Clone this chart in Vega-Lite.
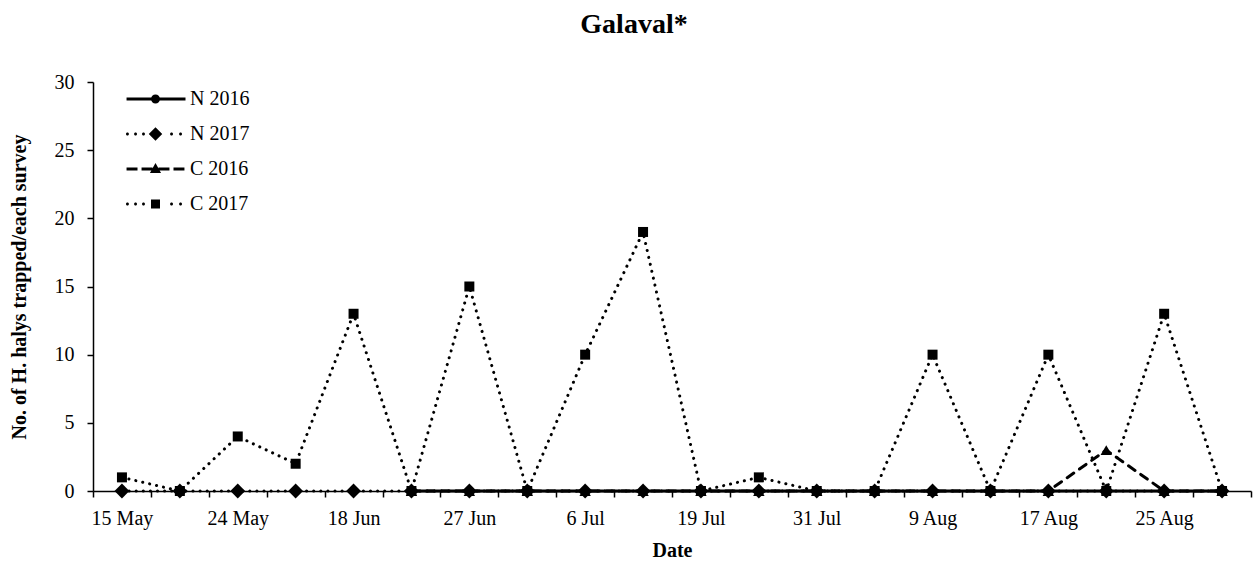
{
  "$schema": "https://vega.github.io/schema/vega-lite/v6.json",
  "autosize": {"type": "none"},
  "padding": {"left": 93, "top": 82, "right": 3, "bottom": 71},
  "width": 1158,
  "height": 409,
  "background": "white",
  "config": {
    "view": {"stroke": null},
    "font": "Liberation Serif",
    "axis": {"grid": false, "domainColor": "black", "domainWidth": 1.5, "tickColor": "black", "tickWidth": 1.5, "labelColor": "black", "titleColor": "black", "labelFont": "Liberation Serif", "titleFont": "Liberation Serif", "labelFontSize": 20, "titleFontSize": 20, "titleFontWeight": "bold"}
  },
  "title": {"text": "Galaval*", "font": "Liberation Serif", "fontSize": 28, "fontWeight": "bold", "color": "black", "anchor": "middle", "baseline": "alphabetic", "offset": 11, "dx": -38},
  "data": {"values": [
    {"series": "N 2016", "i": 5, "v": 0}, {"series": "N 2016", "i": 6, "v": 0}, {"series": "N 2016", "i": 7, "v": 0}, {"series": "N 2016", "i": 8, "v": 0}, {"series": "N 2016", "i": 9, "v": 0}, {"series": "N 2016", "i": 10, "v": 0}, {"series": "N 2016", "i": 11, "v": 0}, {"series": "N 2016", "i": 12, "v": 0}, {"series": "N 2016", "i": 13, "v": 0}, {"series": "N 2016", "i": 14, "v": 0}, {"series": "N 2016", "i": 15, "v": 0}, {"series": "N 2016", "i": 16, "v": 0}, {"series": "N 2016", "i": 17, "v": 0}, {"series": "N 2016", "i": 18, "v": 0}, {"series": "N 2016", "i": 19, "v": 0},
    {"series": "C 2016", "i": 5, "v": 0}, {"series": "C 2016", "i": 6, "v": 0}, {"series": "C 2016", "i": 7, "v": 0}, {"series": "C 2016", "i": 8, "v": 0}, {"series": "C 2016", "i": 9, "v": 0}, {"series": "C 2016", "i": 10, "v": 0}, {"series": "C 2016", "i": 11, "v": 0}, {"series": "C 2016", "i": 12, "v": 0}, {"series": "C 2016", "i": 13, "v": 0}, {"series": "C 2016", "i": 14, "v": 0}, {"series": "C 2016", "i": 15, "v": 0}, {"series": "C 2016", "i": 16, "v": 0}, {"series": "C 2016", "i": 17, "v": 3}, {"series": "C 2016", "i": 18, "v": 0}, {"series": "C 2016", "i": 19, "v": 0},
    {"series": "C 2017", "i": 0, "v": 1}, {"series": "C 2017", "i": 1, "v": 0}, {"series": "C 2017", "i": 2, "v": 4}, {"series": "C 2017", "i": 3, "v": 2}, {"series": "C 2017", "i": 4, "v": 13}, {"series": "C 2017", "i": 5, "v": 0}, {"series": "C 2017", "i": 6, "v": 15}, {"series": "C 2017", "i": 7, "v": 0}, {"series": "C 2017", "i": 8, "v": 10}, {"series": "C 2017", "i": 9, "v": 19}, {"series": "C 2017", "i": 10, "v": 0}, {"series": "C 2017", "i": 11, "v": 1}, {"series": "C 2017", "i": 12, "v": 0}, {"series": "C 2017", "i": 13, "v": 0}, {"series": "C 2017", "i": 14, "v": 10}, {"series": "C 2017", "i": 15, "v": 0}, {"series": "C 2017", "i": 16, "v": 10}, {"series": "C 2017", "i": 17, "v": 0}, {"series": "C 2017", "i": 18, "v": 13}, {"series": "C 2017", "i": 19, "v": 0},
    {"series": "N 2017", "i": 0, "v": 0}, {"series": "N 2017", "i": 1, "v": 0}, {"series": "N 2017", "i": 2, "v": 0}, {"series": "N 2017", "i": 3, "v": 0}, {"series": "N 2017", "i": 4, "v": 0}, {"series": "N 2017", "i": 5, "v": 0}, {"series": "N 2017", "i": 6, "v": 0}, {"series": "N 2017", "i": 7, "v": 0}, {"series": "N 2017", "i": 8, "v": 0}, {"series": "N 2017", "i": 9, "v": 0}, {"series": "N 2017", "i": 10, "v": 0}, {"series": "N 2017", "i": 11, "v": 0}, {"series": "N 2017", "i": 12, "v": 0}, {"series": "N 2017", "i": 13, "v": 0}, {"series": "N 2017", "i": 14, "v": 0}, {"series": "N 2017", "i": 15, "v": 0}, {"series": "N 2017", "i": 16, "v": 0}, {"series": "N 2017", "i": 17, "v": 0}, {"series": "N 2017", "i": 18, "v": 0}, {"series": "N 2017", "i": 19, "v": 0}
  ]},
  "encoding": {
    "x": {"field": "i", "type": "quantitative",
      "scale": {"domain": [-0.5, 19.5], "nice": false, "zero": false},
      "axis": {"title": "Date", "values": [-0.5, 0, 0.5, 1.5, 2, 2.5, 3.5, 4, 4.5, 5.5, 6, 6.5, 7.5, 8, 8.5, 9.5, 10, 10.5, 11.5, 12, 12.5, 13.5, 14, 14.5, 15.5, 16, 16.5, 17.5, 18, 18.5, 19.5],
        "labelExpr": "datum.value % 2 === 0 ? ['15 May','24 May','18 Jun','27 Jun','6 Jul','19 Jul','31 Jul','9 Aug','17 Aug','25 Aug'][datum.value / 2] : ''",
        "tickOpacity": {"condition": {"test": "datum.value % 1 === 0", "value": 0}, "value": 1},
        "tickSize": 6, "labelPadding": 11, "labelOverlap": false, "labelFlush": false, "labelBound": false, "titlePadding": 12}},
    "y": {"field": "v", "type": "quantitative",
      "scale": {"domain": [0, 30], "nice": false},
      "axis": {"title": "No. of H. halys trapped/each survey", "values": [0, 5, 10, 15, 20, 25, 30], "tickSize": 6, "labelPadding": 13, "titlePadding": 25}}
  },
  "layer": [
    {
      "mark": {"type": "line", "color": "black", "strokeWidth": 3, "strokeCap": "round"},
      "encoding": {
        "detail": {"field": "series"},
        "strokeDash": {"field": "series", "type": "nominal", "legend": null,
          "scale": {"domain": ["N 2016", "N 2017", "C 2016", "C 2017"], "range": [[1, 0], [0.1, 7], [8, 7], [0.1, 7]]}}
      }
    },
    {
      "transform": [{"filter": "datum.series === 'N 2016'"}],
      "mark": {"type": "point", "filled": true, "color": "black", "opacity": 1, "shape": "circle", "size": 70}
    },
    {
      "transform": [{"filter": "datum.series === 'C 2016'"}],
      "mark": {"type": "point", "filled": true, "color": "black", "opacity": 1, "shape": "triangle-up", "size": 130}
    },
    {
      "transform": [{"filter": "datum.series === 'C 2017'"}],
      "mark": {"type": "point", "filled": true, "color": "black", "opacity": 1, "shape": "square", "size": 100}
    },
    {
      "transform": [{"filter": "datum.series === 'N 2017'"}],
      "mark": {"type": "point", "filled": true, "color": "black", "opacity": 1, "shape": "diamond", "size": 220}
    },
    {
      "transform": [{"filter": "datum.v < 0"}],
      "mark": {"type": "point", "filled": true, "color": "black", "opacity": 1},
      "encoding": {
        "shape": {"field": "series", "type": "nominal",
          "scale": {"domain": ["N 2016", "N 2017", "C 2016", "C 2017"], "range": [
            "M-1.93,-0.1H2V0.1H-1.93Z M-0.3,0A0.3,0.3,0,1,1,0.3,0A0.3,0.3,0,1,1,-0.3,0Z",
            "M-1.97,0A0.1,0.1,0,1,1,-1.77,0A0.1,0.1,0,1,1,-1.97,0Z M-1.43,0A0.1,0.1,0,1,1,-1.23,0A0.1,0.1,0,1,1,-1.43,0Z M-0.9,0A0.1,0.1,0,1,1,-0.7,0A0.1,0.1,0,1,1,-0.9,0Z M0.97,0A0.1,0.1,0,1,1,1.17,0A0.1,0.1,0,1,1,0.97,0Z M1.57,0A0.1,0.1,0,1,1,1.77,0A0.1,0.1,0,1,1,1.57,0Z M0,-0.45L0.45,0L0,0.45L-0.45,0Z",
            "M-1.93,-0.1H-1.2V0.1H-1.93Z M-0.93,-0.1H-0.2V0.1H-0.93Z M0.2,-0.1H0.93V0.1H0.2Z M1.2,-0.1H1.93V0.1H1.2Z M0,-0.4L0.37,0.27L-0.37,0.27Z",
            "M-1.97,0A0.1,0.1,0,1,1,-1.77,0A0.1,0.1,0,1,1,-1.97,0Z M-1.43,0A0.1,0.1,0,1,1,-1.23,0A0.1,0.1,0,1,1,-1.43,0Z M-0.9,0A0.1,0.1,0,1,1,-0.7,0A0.1,0.1,0,1,1,-0.9,0Z M0.97,0A0.1,0.1,0,1,1,1.17,0A0.1,0.1,0,1,1,0.97,0Z M1.57,0A0.1,0.1,0,1,1,1.77,0A0.1,0.1,0,1,1,1.57,0Z M-0.3,-0.3H0.3V0.3H-0.3Z"
          ]},
          "legend": {"orient": "none", "legendX": 47.5, "legendY": 2, "title": null, "symbolSize": 900, "symbolFillColor": "black", "symbolStrokeWidth": 0, "symbolOpacity": 1, "labelFont": "Liberation Serif", "labelFontSize": 20, "labelColor": "black", "labelOffset": 19.5, "rowPadding": 10, "padding": 0}}
      }
    }
  ],
  "resolve": {"scale": {"shape": "independent"}}
}
